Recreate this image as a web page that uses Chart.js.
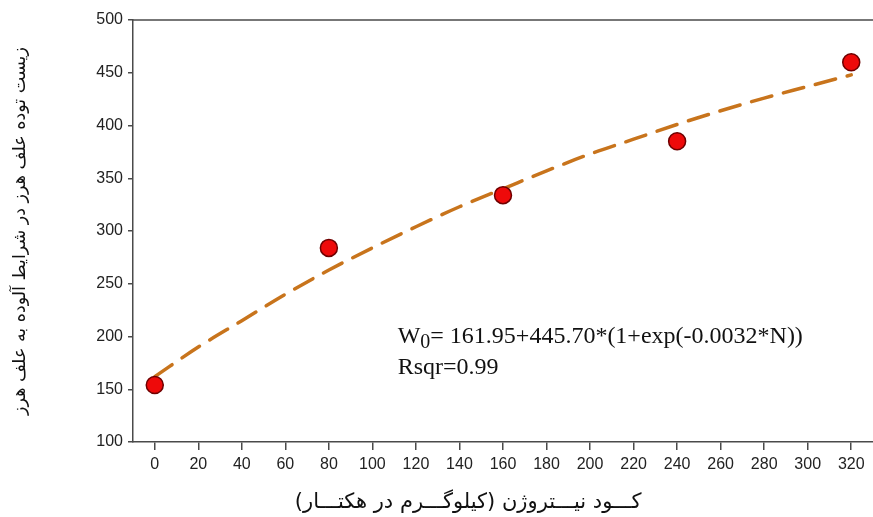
<!DOCTYPE html>
<html>
<head>
<meta charset="utf-8">
<script src="https://cdn.jsdelivr.net/npm/chart.js@4.4.1/dist/chart.umd.min.js"></script>
<style>
  html, body { margin: 0; padding: 0; background: #fff; }
  #wrap { width: 873px; height: 517px; }
</style>
</head>
<body>
<div id="wrap"><canvas id="myChart"></canvas></div>
<script>
// observed weed biomass at each nitrogen rate
const nitrogen = [0, 80, 160, 240, 320];
const biomass = [154, 284, 334, 385, 460];

// fitted curve
const fitX = [0, 20, 40, 60, 80, 100, 120, 140, 160, 180, 200, 220, 240, 260, 280, 300, 320];
const fitY = [162, 190, 215, 240, 263, 284, 304, 323, 340, 357, 373, 387, 401, 414, 426, 437, 448];

const xTicks = [0, 20, 40, 60, 80, 100, 120, 140, 160, 180, 200, 220, 240, 260, 280, 300, 320];
const yTicks = [100, 150, 200, 250, 300, 350, 400, 450, 500];

const yTitle = 'زیست توده علف هرز در شرایط آلوده به علف هرز';
const xTitle = 'کـــود نیـــتروژن (کیلوگـــرم در هکتـــار)';
const equation = '= 161.95+445.70*(1+exp(-0.0032*N))';
const rsqr = 'Rsqr=0.99';

const axisColor = '#4a4a4a';

const extras = {
    id: 'extras',
    afterDraw(chart) {
        const ctx = chart.ctx;
        const area = chart.chartArea;
        const xs = chart.scales.x;
        const ys = chart.scales.y;
        ctx.save();

        // top frame line
        ctx.strokeStyle = axisColor;
        ctx.lineWidth = 1.5;
        ctx.beginPath();
        ctx.moveTo(area.left, area.top);
        ctx.lineTo(area.right, area.top);
        ctx.stroke();

        // x axis title (rtl so the brackets come out right)
        ctx.fillStyle = '#111';
        ctx.direction = 'rtl';
        ctx.textAlign = 'center';
        ctx.textBaseline = 'middle';
        ctx.font = '21px "DejaVu Sans"';
        ctx.fillText(xTitle, xs.getPixelForValue(144), 503);

        // fit equation
        ctx.direction = 'ltr';
        ctx.textAlign = 'left';
        ctx.textBaseline = 'alphabetic';
        const x0 = xs.getPixelForValue(111.6);
        let x = x0;
        const y1 = ys.getPixelForValue(194);
        const y2 = ys.getPixelForValue(164.5);
        ctx.font = '24px "Liberation Serif"';
        ctx.fillText('W', x, y1);
        x += ctx.measureText('W').width;
        ctx.font = '20px "Liberation Serif"';
        ctx.fillText('0', x, y1 + 5);
        x += ctx.measureText('0').width;
        ctx.font = '24px "Liberation Serif"';
        ctx.fillText(equation, x, y1);
        ctx.fillText(rsqr, x0, y2);
        ctx.restore();
    }
};

const ctx = document.getElementById('myChart').getContext('2d');
new Chart(ctx, {
    data: {
        datasets: [
            {
                type: 'scatter',
                label: 'observed',
                data: nitrogen.map((n, i) => ({ x: n, y: biomass[i] })),
                backgroundColor: '#ee0a0a',
                borderColor: '#6e0000',
                borderWidth: 1.5,
                pointRadius: 8.5,
                order: 0
            },
            {
                type: 'line',
                label: 'fit',
                data: fitX.map((n, i) => ({ x: n, y: fitY[i] })),
                borderColor: '#c8741c',
                borderWidth: 3.5,
                borderDash: [21, 12],
                borderCapStyle: 'round',
                pointRadius: 0,
                cubicInterpolationMode: 'monotone',
                fill: false,
                order: 1
            }
        ]
    },
    options: {
        responsive: true,
        maintainAspectRatio: false,
        animation: false,
        layout: { autoPadding: false, padding: { top: 20, right: 0, left: 0, bottom: 0 } },
        plugins: {
            legend: { display: false },
            tooltip: { enabled: false }
        },
        scales: {
            x: {
                type: 'linear',
                min: -10,
                max: 330,
                afterBuildTicks: (scale) => { scale.ticks = xTicks.map(v => ({ value: v })); },
                afterFit: (scale) => {
                    scale.height = 75;
                    scale.paddingLeft = 0;
                    scale.paddingRight = 0;
                },
                border: { display: true, color: axisColor, width: 1.5 },
                grid: { drawOnChartArea: false, drawTicks: true, tickLength: 8, color: axisColor, lineWidth: 1.5 },
                ticks: {
                    color: '#222',
                    padding: 5,
                    maxRotation: 0,
                    autoSkip: false,
                    font: { family: '"Liberation Sans", Arial', size: 16 }
                }
            },
            y: {
                type: 'linear',
                min: 100,
                max: 500,
                afterBuildTicks: (scale) => { scale.ticks = yTicks.map(v => ({ value: v })); },
                afterFit: (scale) => {
                    scale.width = 133;
                    scale.paddingTop = 0;
                    scale.paddingBottom = 0;
                },
                border: { display: true, color: axisColor, width: 1.5 },
                grid: { drawOnChartArea: false, drawTicks: true, tickLength: 5, color: axisColor, lineWidth: 1.5 },
                ticks: {
                    color: '#222',
                    padding: 5,
                    font: { family: '"Liberation Sans", Arial', size: 16 }
                },
                title: {
                    display: true,
                    text: yTitle,
                    color: '#111',
                    padding: { top: 10, bottom: 0 },
                    font: { family: '"DejaVu Sans"', size: 17.5 }
                }
            }
        }
    },
    plugins: [extras]
});
</script>
</body>
</html>
